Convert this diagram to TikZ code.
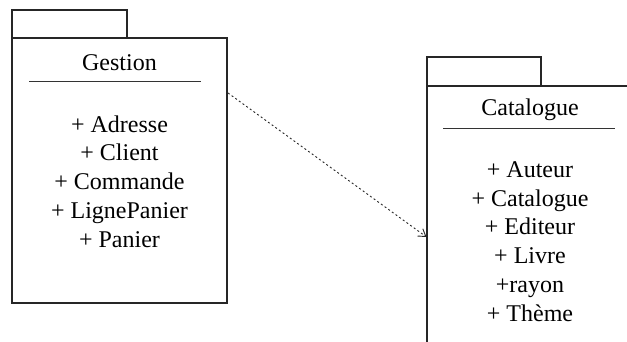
\documentclass[tikz,border=0pt]{standalone}
\usepackage{fontspec}
\setmainfont{Liberation Serif}
\usetikzlibrary{arrows.meta}
\begin{document}
\begin{tikzpicture}[x=1pt,y=-1pt,
  pkg/.style={draw=black!85, line width=1.1pt},
  sep/.style={draw=black!80, line width=1pt},
  txt/.style={font=\fontsize{24}{28.75}\selectfont, align=center, inner sep=0pt},
  dep/.style={draw=black!85, line width=0.9pt, dash pattern=on 2pt off 2.5pt, -{Straight Barb[length=7pt,width=9pt]}}]
\useasboundingbox (0,0) rectangle (627,342);
% Gestion package
\draw[pkg] (12,38) rectangle (127,10);
\draw[pkg] (12,38) rectangle (227,303);
\node[txt] (gname) at (119.5,63) {Gestion};
\draw[sep] (29,82) -- (201,82);
\node[txt] (gitems) at (119.5,181.5) {+ Adresse\\+ Client\\+ Commande\\+ LignePanier\\+ Panier};
% Catalogue package
\draw[pkg] (427,86) rectangle (541,57);
\draw[pkg] (627,86) -- (427,86) -- (427,342);
\node[txt] (cname) at (530,110) {Catalogue};
\draw[sep] (443,129) -- (615,129);
\node[txt] (citems) at (530,241.5) {+ Auteur\\+ Catalogue\\+ Editeur\\+ Livre\\+rayon\\+ Thème};
% dependency
\coordinate (gout) at (228,93);
\coordinate (cin) at (426.5,237);
\draw[dep] (gout) -- (cin);
\end{tikzpicture}
\end{document}
